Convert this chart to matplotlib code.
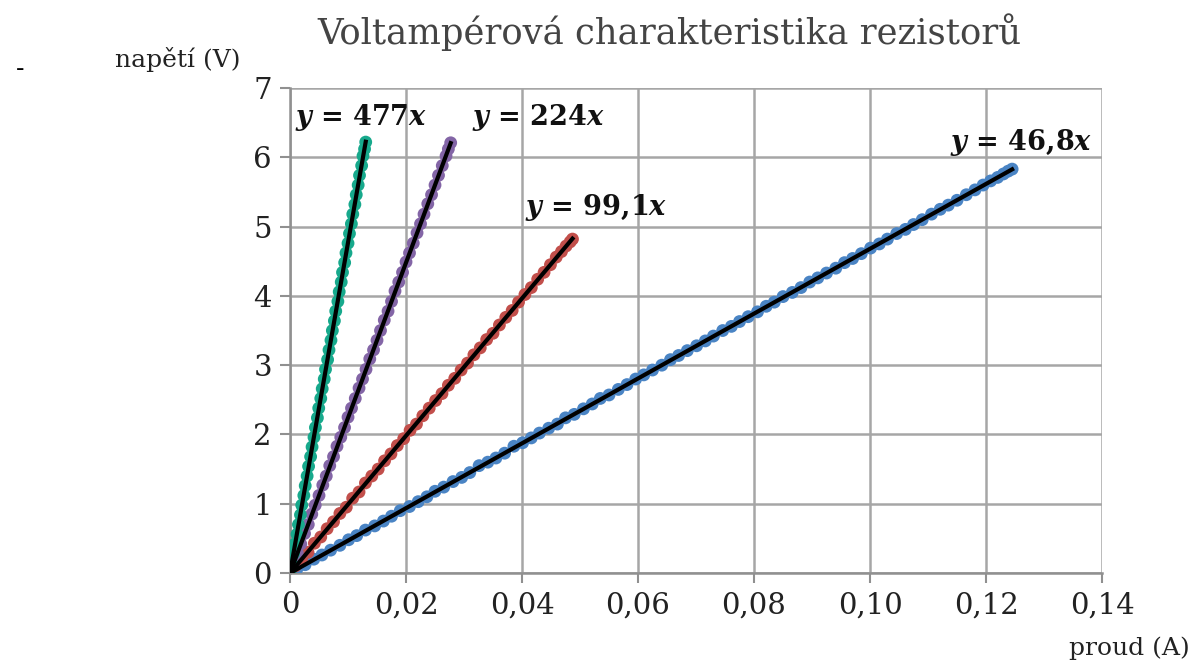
import numpy as np
import matplotlib
matplotlib.use("Agg")
import matplotlib.pyplot as plt

plt.rcParams['font.family'] = ['DejaVu Serif']
plt.rcParams['mathtext.fontset'] = 'dejavuserif'

# proud v mA, napeti ve V
blue_mA = [0.0, 1.2, 2.6, 4.1, 5.5, 7.0, 8.6, 10.1, 11.5, 13.0, 14.6, 16.1, 17.5, 19.0,
           20.6, 22.1, 23.6, 25.0, 26.5, 28.1, 29.6, 31.0, 32.6, 34.1, 35.5, 37.0, 38.6,
           40.1, 41.6, 43.0, 44.6, 46.1, 47.5, 49.0, 50.6, 52.1, 53.5, 55.0, 56.6, 58.1,
           59.6, 61.0, 62.5, 64.1, 65.6, 67.0, 68.5, 70.1, 71.6, 73.0, 74.6, 76.1, 77.5,
           79.0, 80.6, 82.1, 83.5, 85.0, 86.6, 88.1, 89.6, 91.0, 92.5, 94.1, 95.6, 97.0,
           98.5, 100.1, 101.6, 103.0, 104.6, 106.1, 107.5, 109.0, 110.6, 112.1, 113.5,
           115.0, 116.6, 118.1, 119.5, 120.8, 122.0, 123.0, 123.8, 124.5]
blue_V = [0.00, 0.06, 0.12, 0.20, 0.26, 0.33, 0.40, 0.48, 0.54, 0.62, 0.68, 0.75, 0.82, 0.90,
          0.96, 1.03, 1.10, 1.18, 1.24, 1.32, 1.38, 1.45, 1.55, 1.60, 1.66, 1.73, 1.83,
          1.88, 1.95, 2.02, 2.09, 2.15, 2.24, 2.29, 2.37, 2.44, 2.52, 2.57, 2.65, 2.72,
          2.80, 2.86, 2.93, 3.00, 3.08, 3.14, 3.21, 3.28, 3.35, 3.42, 3.50, 3.56, 3.63,
          3.70, 3.77, 3.85, 3.91, 3.99, 4.05, 4.12, 4.20, 4.26, 4.33, 4.40, 4.48, 4.54,
          4.61, 4.69, 4.75, 4.82, 4.90, 4.96, 5.03, 5.10, 5.18, 5.25, 5.31, 5.38, 5.46,
          5.53, 5.60, 5.66, 5.71, 5.76, 5.80, 5.83]

red_mA = [0.0, 0.9, 2.0, 3.1, 4.2, 5.3, 6.4, 7.5, 8.6, 9.7, 10.8, 11.9, 13.0, 14.1, 15.2,
          16.3, 17.4, 18.5, 19.6, 20.7, 21.8, 22.9, 24.0, 25.1, 26.2, 27.3, 28.4, 29.5,
          30.6, 31.7, 32.8, 33.9, 35.0, 36.1, 37.2, 38.3, 39.4, 40.5, 41.6, 42.7, 43.8,
          44.9, 45.9, 46.8, 47.6, 48.3, 48.7]
red_V = [0.00, 0.10, 0.20, 0.30, 0.43, 0.52, 0.64, 0.74, 0.86, 0.95, 1.08, 1.17, 1.30, 1.40,
         1.50, 1.62, 1.72, 1.84, 1.94, 2.06, 2.15, 2.27, 2.38, 2.49, 2.59, 2.71, 2.81, 2.93,
         3.03, 3.15, 3.25, 3.37, 3.46, 3.58, 3.69, 3.79, 3.91, 4.02, 4.12, 4.24, 4.34,
         4.45, 4.56, 4.64, 4.72, 4.78, 4.82]

purple_mA = [0.00, 0.62, 1.25, 1.85, 2.50, 3.15, 3.75, 4.35, 5.00, 5.65, 6.25, 6.85, 7.50,
             8.10, 8.75, 9.40, 10.00, 10.60, 11.25, 11.90, 12.50, 13.10, 13.75, 14.40,
             15.00, 15.60, 16.25, 16.90, 17.50, 18.10, 18.75, 19.40, 20.00, 20.60, 21.25,
             21.90, 22.50, 23.10, 23.75, 24.40, 25.00, 25.60, 26.25, 26.90, 27.30, 27.70]
purple_V = [0.00, 0.14, 0.29, 0.42, 0.57, 0.70, 0.85, 0.98, 1.12, 1.27, 1.40, 1.55, 1.68,
            1.83, 1.96, 2.10, 2.25, 2.38, 2.52, 2.67, 2.80, 2.94, 3.09, 3.22, 3.36, 3.50,
            3.65, 3.78, 3.92, 4.07, 4.20, 4.34, 4.49, 4.62, 4.76, 4.91, 5.04, 5.18, 5.33,
            5.46, 5.60, 5.74, 5.88, 6.02, 6.12, 6.21]

teal_mA = [0.00, 0.25, 0.60, 0.85, 1.20, 1.45, 1.80, 2.02, 2.38, 2.62, 2.95, 3.20, 3.55,
           3.80, 4.13, 4.38, 4.72, 4.95, 5.30, 5.55, 5.90, 6.12, 6.48, 6.72, 7.06, 7.30,
           7.65, 7.88, 8.25, 8.48, 8.83, 9.05, 9.42, 9.65, 10.00, 10.25, 10.58, 10.82,
           11.18, 11.42, 11.75, 11.98, 12.35, 12.58, 12.85, 13.05]
teal_V = [0.00, 0.14, 0.28, 0.42, 0.56, 0.70, 0.84, 0.98, 1.12, 1.26, 1.40, 1.54, 1.68,
          1.82, 1.96, 2.10, 2.24, 2.38, 2.52, 2.66, 2.80, 2.94, 3.08, 3.22, 3.36, 3.50,
          3.64, 3.78, 3.92, 4.06, 4.20, 4.34, 4.48, 4.62, 4.76, 4.90, 5.04, 5.18, 5.32,
          5.46, 5.60, 5.74, 5.88, 6.02, 6.12, 6.22]

series = [
    (blue_mA, blue_V, '#4a84c4', 46.8),
    (red_mA, red_V, '#c24f4b', 99.1),
    (purple_mA, purple_V, '#8365a6', 224),
    (teal_mA, teal_V, '#17a98c', 477),
]

x_ticks = [0, 0.02, 0.04, 0.06, 0.08, 0.10, 0.12, 0.14]
x_labels = ['0', '0,02', '0,04', '0,06', '0,08', '0,10', '0,12', '0,14']
y_ticks = [0, 1, 2, 3, 4, 5, 6, 7]

fig = plt.figure(figsize=(11.95, 6.65), dpi=100)
ax = fig.add_axes([0.2427, 0.1383, 0.6795, 0.7293])

for mA, V, col, k in series:
    I = np.array(mA) / 1000
    ax.scatter(I, V, s=85, color=col, edgecolors='none', zorder=3)
    ax.plot([0, max(I)], [0, k * max(I)], color='black', lw=3, zorder=4)

lab_style = dict(fontsize=19.5, fontweight='bold', color='#111111', zorder=5)
ax.text(0.0008, 6.57, r'$\mathbfit{y}$ = 477$\mathbfit{x}$', va='center', **lab_style)
ax.text(0.0314, 6.57, r'$\mathbfit{y}$ = 224$\mathbfit{x}$', va='center', **lab_style)
ax.text(0.0405, 5.27, r'$\mathbfit{y}$ = 99,1$\mathbfit{x}$', va='center', **lab_style)
ax.text(0.1138, 6.21, r'$\mathbfit{y}$ = 46,8$\mathbfit{x}$', va='center', **lab_style)

ax.set_xlim(0, 0.14)
ax.set_ylim(0, 7)
ax.set_xticks(x_ticks)
ax.set_xticklabels(x_labels)
ax.set_yticks(y_ticks)
ax.tick_params(labelsize=21, colors='#222222', length=7, width=1.5, color='#909090', pad=6)
ax.grid(True, color='#a6a6a6', lw=1.8, zorder=0)
ax.set_axisbelow(True)
for s in ax.spines.values():
    s.set_color('#909090')
    s.set_linewidth(1.8)
ax.spines['right'].set_visible(False)
ax.spines['top'].set_visible(False)

fig.text(0.56, 0.952, 'Voltampérová charakteristika rezistorů', ha='center', va='center',
         fontsize=25.5, color='#444444')
fig.text(0.096, 0.91, 'napětí (V)', ha='left', va='center', fontsize=18, color='#222222')
fig.text(0.996, 0.025, 'proud (A)', ha='right', va='center', fontsize=18, color='#222222')
fig.text(0.013, 0.895, '-', ha='left', va='center', fontsize=18, color='black')

fig.savefig('out.png', dpi=100)
